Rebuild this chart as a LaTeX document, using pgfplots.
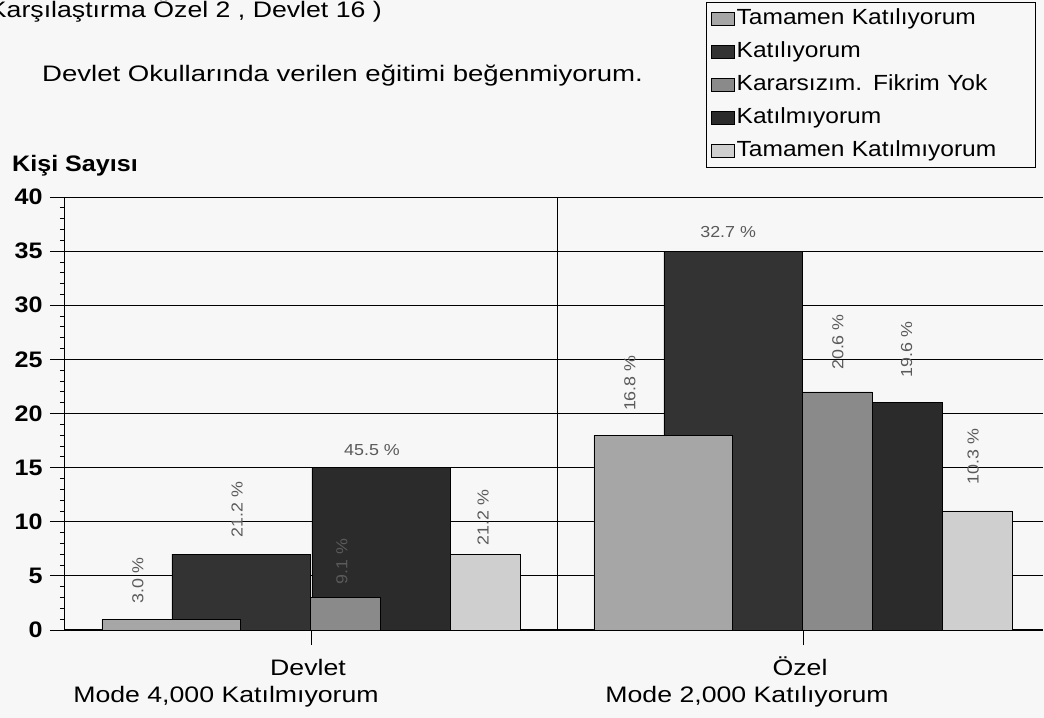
\documentclass[border=0pt]{standalone}
\usepackage{pgfplots}
\pgfplotsset{compat=1.18}
\usepackage{fontspec}
\setmainfont{Liberation Sans}[FakeStretch=1.12]
\newfontfamily\wideA{Liberation Sans}[FakeStretch=1.19]
\newfontfamily\wideB{Liberation Sans}[FakeStretch=1.23]
\definecolor{cA}{HTML}{A6A6A6}
\definecolor{cB}{HTML}{333333}
\definecolor{cC}{HTML}{8A8A8A}
\definecolor{cD}{HTML}{2B2B2B}
\definecolor{cE}{HTML}{CFCFCF}
\definecolor{lbl}{HTML}{5A5A5A}
\definecolor{bg}{HTML}{F7F7F7}
\newcommand{\fs}{\fontsize{22.5}{26}\selectfont}
\newcommand{\fl}{\fontsize{22}{26}\selectfont}
\newcommand{\fp}{\fontsize{16}{18}\selectfont}
\begin{document}
\begin{tikzpicture}[x=1bp,y=1bp]
\path[use as bounding box, fill=bg] (-65,-88) rectangle (979,630);
\begin{axis}[
  at={(0,0)}, anchor=south west,
  scale only axis, width=978bp, height=433bp,
  xmin=0, xmax=1.988, ymin=0, ymax=40,
  axis lines*=left,
  axis line style={-, black, line width=1bp},
  ytick={0,5,...,40},
  minor y tick num=4,
  xtick={0.5,1.5},
  xticklabels={},
  extra x ticks={1},
  extra x tick labels={},
  extra x tick style={grid=major, major tick length=0pt},
  ymajorgrids,
  grid style={black, line width=0.8bp},
  major grid style={black, line width=0.8bp},
  tick align=outside,
  major tick length=15bp,
  minor tick length=5bp,
  tick style={black, line width=0.8bp},
  yticklabel style={font=\fs\bfseries, anchor=east, xshift=-4bp},
  /pgf/number format/assume math mode=true,
  reverse legend,
  legend style={at={(0.655,1.450)}, anchor=north west, draw=black, line width=1bp,
    font=\fl, fill=bg, inner xsep=5bp, inner ysep=4bp, row sep=8bp,
    nodes={inner xsep=2bp, inner ysep=2bp, text height=16bp, text depth=5bp, text width=292bp}},
  legend cell align=left,
  legend image code/.code={\draw[#1, draw=black, line width=0.6bp] (0bp,-6bp) rectangle (23bp,7bp);},
  clip=false,
]
% drawn back to front: series 5 first
\addplot[ybar, bar width=0.2805, bar shift=0.2846, fill=cE, draw=black, line width=0.6bp]
  coordinates {(0.5,7) (1.5,11)};
\addlegendentry{Tamamen Katılmıyorum}
\addplot[ybar, bar width=0.2805, bar shift=0.1423, fill=cD, draw=black, line width=0.6bp]
  coordinates {(0.5,15) (1.5,21)};
\addlegendentry{Katılmıyorum}
\addplot[ybar, bar width=0.2805, bar shift=0, fill=cC, draw=black, line width=0.6bp]
  coordinates {(0.5,3) (1.5,22)};
\addlegendentry{Kararsızım. Fikrim Yok}
\addplot[ybar, bar width=0.2805, bar shift=-0.1423, fill=cB, draw=black, line width=0.6bp]
  coordinates {(0.5,7) (1.5,35)};
\addlegendentry{Katılıyorum}
\addplot[ybar, bar width=0.2805, bar shift=-0.2846, fill=cA, draw=black, line width=0.6bp]
  coordinates {(0.5,1) (1.5,18)};
\addlegendentry{Tamamen Katılıyorum}
% percentage labels
\begin{scope}[every node/.style={font=\fp, text=lbl, inner sep=0pt}]
\node[rotate=90] at (axis cs:0.148,4.6) {3.0 \%};
\node[rotate=90] at (axis cs:0.350,11.1) {21.2 \%};
\node[rotate=90] at (axis cs:0.563,6.3) {9.1 \%};
\node at (axis cs:0.624,16.6) {45.5 \%};
\node[rotate=90] at (axis cs:0.850,10.4) {21.2 \%};
\node[rotate=90] at (axis cs:1.148,22.8) {16.8 \%};
\node at (axis cs:1.348,36.8) {32.7 \%};
\node[rotate=90] at (axis cs:1.571,26.6) {20.6 \%};
\node[rotate=90] at (axis cs:1.711,25.9) {19.6 \%};
\node[rotate=90] at (axis cs:1.846,16.0) {10.3 \%};
\end{scope}
\end{axis}
\begin{scope}[every node/.style={font=\fs\wideA, inner sep=0pt}]
\node[anchor=base east] at (317,612) {(Karşılaştırma Özel 2 , Devlet 16 )};
\node[anchor=base west, font=\fs\wideB] at (-23,548) {Devlet Okullarında verilen eğitimi beğenmiyorum.};
\node[anchor=base west, font=\fs\bfseries] at (-53,458) {Kişi Sayısı};
\node[anchor=base] at (243,-46) {Devlet};
\node[anchor=base] at (161,-73) {Mode 4,000 Katılmıyorum};
\node[anchor=base] at (735,-46) {Özel};
\node[anchor=base] at (682,-73) {Mode 2,000 Katılıyorum};
\end{scope}
\end{tikzpicture}
\end{document}
